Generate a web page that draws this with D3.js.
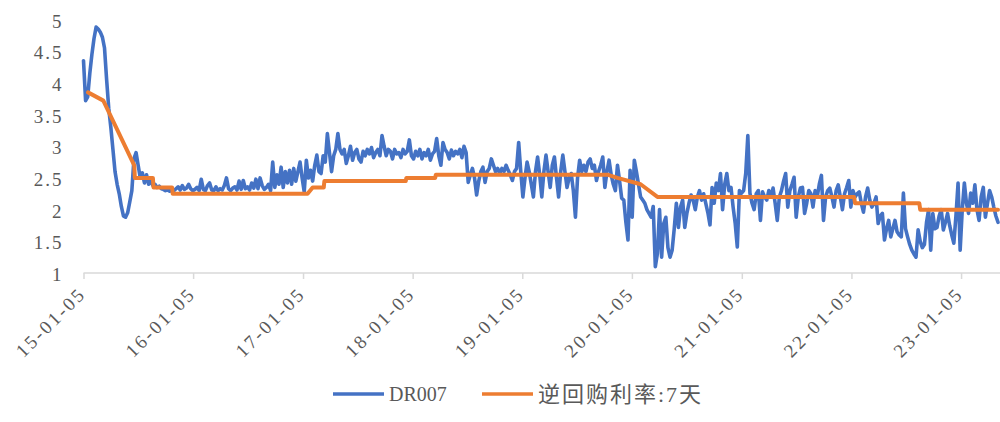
<!DOCTYPE html>
<html>
<head>
<meta charset="utf-8">
<script src="https://cdn.jsdelivr.net/npm/d3@7"></script>
<style>
  html, body { margin: 0; padding: 0; background: #fff; }
  svg { display: block; }
</style>
</head>
<body>
<svg id="chart" width="1000" height="422"></svg>
<script>
// ---- data ----
const yTickValues = [1, 1.5, 2, 2.5, 3, 3.5, 4, 4.5, 5];
const xTickDates = ["2015-01-05", "2016-01-05", "2017-01-05", "2018-01-05", "2019-01-05",
                    "2020-01-05", "2021-01-05", "2022-01-05", "2023-01-05"];

// DR007, weekly observations starting 2015-01-05
const dr007Start = "2015-01-05";
const dr007StepDays = 7;
const dr007Values = [
  4.35,3.72,3.78,4.15,4.45,4.7,4.88,4.85,4.8,4.72,
  4.55,4.05,3.6,3.3,2.95,2.6,2.4,2.25,2.05,1.9,
  1.88,1.95,2.12,2.3,2.8,2.9,2.7,2.5,2.58,2.42,
  2.55,2.4,2.45,2.38,2.4,2.35,2.37,2.33,2.32,2.3,
  2.31,2.29,2.32,2.3,2.33,2.36,2.31,2.38,2.32,2.34,
  2.4,2.33,2.3,2.32,2.35,2.3,2.48,2.32,2.3,2.38,
  2.42,2.31,2.3,2.36,2.3,2.33,2.31,2.38,2.5,2.33,
  2.3,2.34,2.36,2.31,2.45,2.32,2.46,2.33,2.36,2.31,
  2.42,2.34,2.48,2.33,2.5,2.38,2.32,2.35,2.4,2.3,
  2.75,2.35,2.55,2.4,2.67,2.35,2.6,2.42,2.62,2.4,
  2.65,2.45,2.6,2.75,2.5,2.28,2.78,2.5,2.62,2.45,
  2.7,2.86,2.6,2.57,2.85,2.75,3.2,2.9,2.6,2.85,
  2.95,3.2,2.95,2.88,2.95,2.73,2.85,3.0,2.78,2.9,
  2.95,2.8,2.75,2.92,2.85,2.95,2.88,2.98,2.82,2.9,
  2.95,2.85,3.17,3.0,2.85,2.95,2.92,2.8,2.95,2.88,
  2.9,2.82,2.95,2.88,2.92,3.1,2.85,2.8,2.92,2.85,
  2.95,2.8,2.9,2.85,2.95,2.78,2.88,2.92,3.12,2.85,
  2.7,3.06,2.95,2.9,2.8,2.94,2.85,2.92,2.88,2.95,
  2.82,3.0,2.9,2.43,2.55,2.65,2.5,2.23,2.45,2.6,
  2.67,2.43,2.6,2.65,2.8,2.7,2.6,2.65,2.57,2.65,
  2.6,2.7,2.62,2.55,2.46,2.6,2.65,3.06,2.6,2.2,
  2.5,2.75,2.6,2.4,2.2,2.6,2.83,2.55,2.2,2.6,
  2.86,2.6,2.35,2.7,2.83,2.5,2.2,2.6,2.86,2.6,
  2.35,2.5,2.57,2.3,1.88,2.5,2.78,2.6,2.7,2.6,
  2.75,2.8,2.65,2.7,2.46,2.6,2.7,2.83,2.35,2.6,
  2.78,2.55,2.4,2.3,2.7,2.45,2.18,2.15,1.8,1.52,
  2.62,1.88,2.78,2.6,2.4,2.2,2.15,2.1,2.0,1.94,
  1.88,2.05,1.1,1.31,2.0,1.25,1.78,1.88,1.4,1.25,
  1.36,1.7,2.1,1.72,2.04,2.15,1.72,1.94,2.1,2.23,
  2.15,2.0,2.2,2.3,2.15,2.25,2.1,1.95,1.76,2.35,
  2.1,2.42,2.3,2.57,2.0,2.4,2.57,2.3,2.35,2.04,
  1.78,1.41,2.3,2.26,2.3,2.57,3.17,2.26,2.1,2.0,
  2.25,2.3,1.83,2.28,2.2,2.15,2.3,2.2,2.34,2.1,
  1.83,2.2,2.3,2.45,2.57,2.04,2.3,2.4,2.51,1.88,
  2.2,2.34,2.35,1.94,2.1,2.3,2.25,2.04,2.3,2.2,
  2.4,2.54,1.83,2.2,2.3,2.34,2.2,2.04,2.3,2.39,
  2.2,2.0,2.25,2.35,2.46,2.04,2.3,2.2,2.25,2.28,
  2.1,1.96,2.2,2.34,2.15,2.04,2.1,2.2,1.78,1.9,
  1.94,1.52,1.7,1.83,1.57,1.7,1.83,1.65,1.6,1.57,
  2.26,1.7,1.57,1.45,1.36,1.3,1.25,1.68,1.5,1.4,
  1.45,1.8,2.0,1.36,1.94,1.7,1.72,1.9,2.0,1.68,
  1.8,1.94,1.75,1.6,1.47,1.9,2.42,1.36,2.0,2.42,
  2.1,1.94,2.26,2.1,2.39,2.0,1.83,2.2,2.35,1.88,
  2.1,2.3,2.2,2.04,1.9,1.8
];

// 7-day reverse repo rate, change points
const repoDates = [
  "2015-01-20","2015-03-12","2015-06-23","2015-06-25","2015-08-24","2015-08-26",
  "2015-10-27","2015-10-29","2017-01-20","2017-02-06","2017-03-15","2017-03-17",
  "2017-12-13","2017-12-15","2018-03-21","2018-03-23","2019-10-18","2019-11-18",
  "2020-02-03","2020-03-30","2022-01-14","2022-01-17","2022-08-19","2022-08-22",
  "2023-05-08"
];
const repoValues = [
  3.85,3.72,2.7,2.5,2.5,2.35,
  2.35,2.25,2.25,2.35,2.35,2.45,
  2.45,2.5,2.5,2.55,2.55,2.5,
  2.4,2.2,2.2,2.1,2.1,2.0,
  2.0
];

const seriesNames = ["DR007", "逆回购利率:7天"];
const seriesColors = ["#4472C4", "#ED7D31"];

// ---- build ----
const parse = d3.utcParse("%Y-%m-%d");
const startDate = parse(dr007Start);
const dr007 = dr007Values.map((v, i) => ({ date: d3.utcDay.offset(startDate, i * dr007StepDays), value: v }));
const repo = repoDates.map((d, i) => ({ date: parse(d), value: repoValues[i] }));

const svg = d3.select("#chart");
const plot = { left: 83.5, right: 998, top: 19.5, bottom: 273 };

const x = d3.scaleUtc()
  .domain([startDate, dr007[dr007.length - 1].date])
  .range([plot.left, plot.right]);
const y = d3.scaleLinear().domain([1, 5]).range([plot.bottom, plot.top]);

const labelFont = "'Liberation Serif', 'Noto Sans CJK SC', serif";

// y axis (labels only)
const yAxis = svg.append("g")
  .attr("transform", `translate(${plot.left},0)`)
  .call(d3.axisLeft(y).tickValues(yTickValues).tickSize(0).tickPadding(20)
    .tickFormat(d3.format(".1~f")));
yAxis.select(".domain").remove();
yAxis.selectAll("text")
  .attr("font-family", labelFont)
  .attr("font-size", 19)
  .attr("letter-spacing", 2)
  .attr("fill", "#595959")
  .attr("dy", "0.4em");

// x axis
const xAxis = svg.append("g")
  .attr("transform", `translate(0,${plot.bottom})`)
  .call(d3.axisBottom(x).tickValues(xTickDates.map(parse)).tickSize(6)
    .tickFormat(d3.utcFormat("%y-%m-%d")));
xAxis.select(".domain")
  .attr("d", `M${plot.left},0H1000`)
  .attr("stroke", "#d9d9d9").attr("stroke-width", 1.5);
xAxis.selectAll(".tick line").attr("stroke", "#d9d9d9").attr("stroke-width", 1.5);
xAxis.selectAll(".tick text")
  .attr("font-family", labelFont)
  .attr("font-size", 19)
  .attr("letter-spacing", 2.5)
  .attr("fill", "#595959")
  .attr("text-anchor", "end")
  .attr("y", 0).attr("dy", 0)
  .attr("transform", "translate(3,22) rotate(-45)");

// lines
const line = d3.line().x(d => x(d.date)).y(d => y(d.value));
svg.append("path").datum(dr007)
  .attr("d", line).attr("fill", "none")
  .attr("stroke", seriesColors[0]).attr("stroke-width", 3.6)
  .attr("stroke-linejoin", "round").attr("stroke-linecap", "round");
svg.append("path").datum(repo)
  .attr("d", line).attr("fill", "none")
  .attr("stroke", seriesColors[1]).attr("stroke-width", 4)
  .attr("stroke-linejoin", "round").attr("stroke-linecap", "round");

// legend
const legendItems = [
  { x: 333, size: 20, spacing: 0 },
  { x: 482, size: 22, spacing: 2 }
];
const legend = svg.append("g").attr("transform", "translate(0,394)");
legendItems.forEach((it, i) => {
  legend.append("line")
    .attr("x1", it.x).attr("x2", it.x + 51).attr("y1", 0).attr("y2", 0)
    .attr("stroke", seriesColors[i]).attr("stroke-width", 3.5);
  legend.append("text")
    .attr("x", it.x + 56).attr("y", 0).attr("dy", "0.36em")
    .attr("font-family", labelFont)
    .attr("font-size", it.size)
    .attr("letter-spacing", it.spacing)
    .attr("fill", "#595959")
    .text(seriesNames[i]);
});
</script>
</body>
</html>
